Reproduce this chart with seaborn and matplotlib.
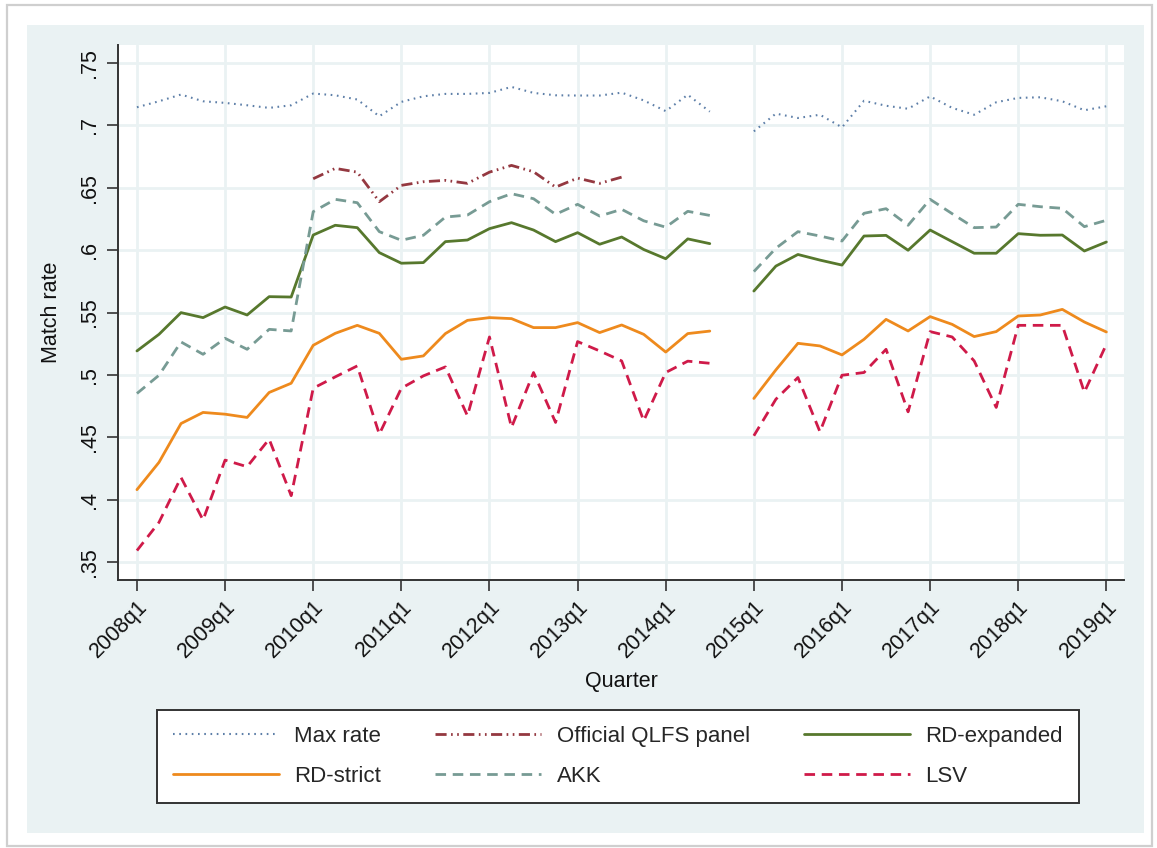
import numpy as np
import pandas as pd
import matplotlib
matplotlib.use("Agg")
import matplotlib.pyplot as plt
from matplotlib.lines import Line2D
from matplotlib.patches import Rectangle
import seaborn as sns

nan = np.nan

# Quarterly time axis: 2008q1 ... 2019q1
quarters = [f"{y}q{q}" for y in range(2008, 2020) for q in range(1, 5)][:45]
tick_labels = [f"{y}q1" for y in range(2008, 2020)]

max_rate = [0.7145, 0.7193, 0.7247, 0.7193, 0.7180, 0.7161, 0.7140, 0.7161,
            0.7255, 0.7241, 0.7207, 0.7073, 0.7188, 0.7233, 0.7252, 0.7252,
            0.7260, 0.7308, 0.7260, 0.7241, 0.7239, 0.7239, 0.7262, 0.7200,
            0.7114, 0.7245, 0.7110, nan,
            0.6952, 0.7094, 0.7059, 0.7085, 0.6984, 0.7197, 0.7157, 0.7133,
            0.7232, 0.7140, 0.7085, 0.7185, 0.7220, 0.7225, 0.7193, 0.7121,
            0.7153]

official_qlfs = [nan] * 8 + [
            0.6572, 0.6655, 0.6625, 0.6388, 0.6519, 0.6548, 0.6559, 0.6535,
            0.6625, 0.6679, 0.6628, 0.6505, 0.6577, 0.6535, 0.6585] + [nan] * 22

rd_expanded = [0.5192, 0.5325, 0.5499, 0.5459, 0.5544, 0.5480, 0.5627, 0.5624,
               0.6121, 0.6199, 0.6180, 0.5980, 0.5895, 0.5900, 0.6068, 0.6081,
               0.6172, 0.6220, 0.6161, 0.6068, 0.6140, 0.6047, 0.6105, 0.6005,
               0.5931, 0.6090, 0.6052, nan,
               0.5672, 0.5872, 0.5965, 0.5920, 0.5880, 0.6113, 0.6118, 0.5999,
               0.6161, 0.6068, 0.5975, 0.5975, 0.6132, 0.6119, 0.6121, 0.5993,
               0.6065]

rd_strict = [0.4080, 0.4299, 0.4610, 0.4699, 0.4685, 0.4659, 0.4859, 0.4933,
             0.5237, 0.5333, 0.5397, 0.5333, 0.5125, 0.5152, 0.5331, 0.5437,
             0.5459, 0.5451, 0.5379, 0.5379, 0.5419, 0.5339, 0.5400, 0.5325,
             0.5183, 0.5331, 0.5351, nan,
             0.4811, 0.5040, 0.5253, 0.5232, 0.5160, 0.5285, 0.5445, 0.5352,
             0.5467, 0.5405, 0.5307, 0.5347, 0.5472, 0.5480, 0.5525, 0.5424,
             0.5344]

akk = [0.4851, 0.4997, 0.5264, 0.5165, 0.5293, 0.5205, 0.5365, 0.5352,
       0.6308, 0.6407, 0.6380, 0.6148, 0.6079, 0.6119, 0.6265, 0.6281,
       0.6388, 0.6452, 0.6412, 0.6287, 0.6367, 0.6273, 0.6327, 0.6235,
       0.6184, 0.6311, 0.6278, nan,
       0.5828, 0.6015, 0.6148, 0.6113, 0.6073, 0.6295, 0.6332, 0.6199,
       0.6407, 0.6292, 0.6180, 0.6185, 0.6367, 0.6348, 0.6335, 0.6188,
       0.6239]

lsv = [0.3592, 0.3818, 0.4178, 0.3837, 0.4317, 0.4264, 0.4485, 0.4032,
       0.4893, 0.4984, 0.5072, 0.4525, 0.4893, 0.4992, 0.5064, 0.4672,
       0.5304, 0.4579, 0.5019, 0.4619, 0.5267, 0.5192, 0.5112, 0.4632,
       0.5019, 0.5110, 0.5093, nan,
       0.4512, 0.4805, 0.4979, 0.4544, 0.4997, 0.5019, 0.5205, 0.4704,
       0.5347, 0.5304, 0.5112, 0.4739, 0.5397, 0.5397, 0.5397, 0.4861,
       0.5245]

series_names = ["Max rate", "Official QLFS panel", "RD-expanded",
                "RD-strict", "AKK", "LSV"]
series_values = [max_rate, official_qlfs, rd_expanded, rd_strict, akk, lsv]

styles = {
    "Max rate":            dict(color="#5d7fa8", lw=1.5, ls=(0, (0.8, 2.2))),
    "Official QLFS panel": dict(color="#943840", lw=2.0, ls=(0, (4, 1.6, 0.6, 1.6, 0.6, 1.6))),
    "RD-expanded":         dict(color="#57782d", lw=2.0, ls="-"),
    "RD-strict":           dict(color="#ee8a1d", lw=2.0, ls="-"),
    "AKK":                 dict(color="#779b94", lw=2.0, ls=(0, (3.8, 2.4))),
    "LSV":                 dict(color="#cf1a49", lw=2.0, ls=(0, (3.8, 2.4))),
}

W, H = 1157, 848
bg = "#eaf2f3"
font = ["Liberation Sans", "DejaVu Sans"]

sns.set_theme(style="white")
plt.rcParams["font.family"] = font

fig = plt.figure(figsize=(W / 100, H / 100), dpi=100)
fig.patch.set_facecolor("white")

# card border and graph region
fig.add_artist(Rectangle((7 / W, 1 - 846 / H), 1145 / W, 841 / H,
                         transform=fig.transFigure, facecolor="white",
                         edgecolor="#cfcfcf", lw=1.6, zorder=0))
fig.add_artist(Rectangle((27 / W, 1 - 833 / H), (1144 - 27) / W, (833 - 25) / H,
                         transform=fig.transFigure, facecolor=bg,
                         edgecolor="none", zorder=0.5))

ax = fig.add_axes([118 / W, 1 - 580 / H, (1124 - 118) / W, (580 - 45) / H])
ax.set_facecolor("white")
ax.set_zorder(2)

legend_handles = {}
for name, vals in zip(series_names, series_values):
    df = pd.DataFrame({"t": np.arange(len(quarters)), "rate": vals})
    df["seg"] = df["rate"].isna().cumsum()
    df = df.dropna()
    st = styles[name]
    sns.lineplot(data=df, x="t", y="rate", units="seg", estimator=None,
                 color=st["color"], linewidth=st["lw"], linestyle=st["ls"],
                 ax=ax, legend=False, zorder=3)
    legend_handles[name] = Line2D([], [], color=st["color"], lw=st["lw"], ls=st["ls"])

ax.set_xlim(-0.86, 44.8)
ax.set_ylim(0.3356, 0.7644)

xt = np.arange(0, 45, 4)
ax.set_xticks(xt)
ax.set_xticklabels(tick_labels, rotation=45, ha="right", rotation_mode="anchor",
                   fontsize=15.5, color="#111111")
yt = [0.35, 0.40, 0.45, 0.50, 0.55, 0.60, 0.65, 0.70, 0.75]
ax.set_yticks(yt)
ax.set_yticklabels([(f"{v:.2f}").rstrip("0").lstrip("0") for v in yt],
                   rotation=90, va="center", fontsize=15.5, color="#111111")

ax.grid(True, color=bg, lw=2.0, zorder=0)
ax.set_axisbelow(True)
for side in ["top", "right"]:
    ax.spines[side].set_visible(False)
for side in ["left", "bottom"]:
    ax.spines[side].set_color("#333333")
    ax.spines[side].set_linewidth(1.4)
ax.tick_params(axis="both", direction="out", length=8, width=1.2,
               color="#333333", left=True, bottom=True)
ax.tick_params(axis="x", pad=4)
ax.tick_params(axis="y", pad=5)

ax.set_xlabel("Quarter", fontsize=15.5, color="#111111", labelpad=6)
ax.set_ylabel("Match rate", fontsize=15.5, color="#111111", labelpad=12)

order = ["Max rate", "RD-strict", "Official QLFS panel", "AKK", "RD-expanded", "LSV"]
leg = fig.legend([legend_handles[n] for n in order], order, ncol=3,
                 loc="upper left", bbox_to_anchor=(157 / W, 1 - 710 / H),
                 bbox_transform=fig.transFigure, borderaxespad=0,
                 frameon=True, fancybox=False, framealpha=1,
                 fontsize=16, handlelength=4.75, handletextpad=0.7,
                 columnspacing=2.45, labelspacing=0.85, borderpad=0.72)
leg.get_frame().set_edgecolor("#333333")
leg.get_frame().set_linewidth(1.4)
leg.set_zorder(5)

fig.savefig("out.png", dpi=100, facecolor=fig.get_facecolor())
